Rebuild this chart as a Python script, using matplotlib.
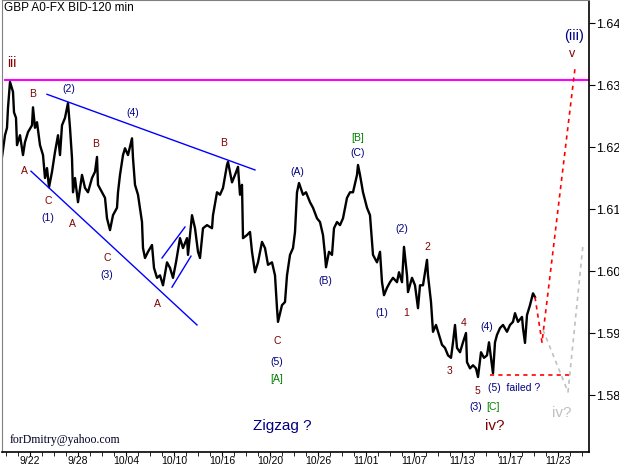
import matplotlib
matplotlib.use("Agg")
import matplotlib.pyplot as plt
import numpy as np

# 120-min bars, 12 bars per day; bar 0 = 9/22
bars = [-28, -25, -23, -22, -20, -17, -16, -14, -13, -10, -7, -5, -2, 2, 3, 5, 7, 10, 13, 15,
        17, 19, 22, 25, 28, 30, 32, 35, 38, 40, 42, 43, 45, 48, 52, 55, 58, 62, 65, 67,
        68, 72, 75, 77, 80, 83, 87, 88, 90, 93, 95, 98, 102, 103, 105, 108, 112, 113, 115, 118,
        122, 124, 127, 130, 133, 137, 140, 143, 146, 150, 153, 157, 158, 162, 165, 168, 170, 173, 177, 182,
        183, 187, 190, 193, 197, 198, 202, 205, 208, 210, 212, 213, 217, 220, 222, 225, 228, 232, 235, 238,
        242, 245, 247, 248, 252, 255, 257, 260, 263, 265, 267, 269, 273, 276, 280, 283, 287, 290, 293, 295,
        296, 299, 302, 304, 307, 310, 313, 317, 320, 323, 327, 328, 330, 333, 337, 340, 342, 343, 347, 350,
        352, 354, 357, 360, 363, 367, 369, 372, 374, 377, 378, 382, 385, 388, 390, 393, 397, 398, 401, 403,
        406, 409, 412, 415, 418, 421, 423, 425, 427, 430, 433, 436, 437, 440, 443, 446, 448, 451, 454, 457,
        459, 462, 463, 465, 467, 470, 473, 477, 480, 483, 485, 488, 492, 493, 495, 497, 500, 503, 505]
close = [1.6184, 1.6219, 1.6231, 1.6263, 1.6305, 1.6289, 1.6256, 1.6247, 1.6203, 1.6219, 1.6187, 1.6208, 1.6224, 1.6235, 1.6264, 1.6231, 1.6240, 1.6203, 1.6187, 1.6150,
         1.6166, 1.6135, 1.6160, 1.6192, 1.6219, 1.6187, 1.6235, 1.6247, 1.6271, 1.6231, 1.6182, 1.6127, 1.6150, 1.6111, 1.6155, 1.6134, 1.6127, 1.6150, 1.6160, 1.6184,
         1.6139, 1.6127, 1.6118, 1.6085, 1.6066, 1.6090, 1.6102, 1.6127, 1.6155, 1.6187, 1.6198, 1.6187, 1.6214, 1.6182, 1.6139, 1.6123, 1.6079, 1.6037, 1.6021, 1.6031,
         1.6042, 1.6005, 1.5989, 1.5993, 1.5977, 1.6014, 1.6005, 1.5989, 1.6014, 1.6053, 1.6037, 1.6053, 1.6026, 1.6090, 1.6069, 1.6031, 1.6021, 1.6069, 1.6074, 1.6069,
         1.6090, 1.6127, 1.6123, 1.6134, 1.6171, 1.6176, 1.6143, 1.6155, 1.6168, 1.6123, 1.6139, 1.6053, 1.6058, 1.6063, 1.6031, 1.5998, 1.6014, 1.6047, 1.6037, 1.6010,
         1.6014, 1.5993, 1.5940, 1.5918, 1.5945, 1.5950, 1.5993, 1.6026, 1.6037, 1.6063, 1.6127, 1.6142, 1.6123, 1.6127, 1.6111, 1.6102, 1.6085, 1.6079, 1.6058, 1.6026,
         1.6006, 1.6031, 1.6026, 1.6069, 1.6079, 1.6074, 1.6085, 1.6118, 1.6127, 1.6127, 1.6155, 1.6171, 1.6155, 1.6127, 1.6102, 1.6090, 1.6047, 1.6026, 1.6014, 1.6031,
         1.5982, 1.5961, 1.5973, 1.5982, 1.5989, 1.5982, 1.5998, 1.5982, 1.6039, 1.5993, 1.5966, 1.5989, 1.5977, 1.5940, 1.5977, 1.5977, 1.6018, 1.5993, 1.5950, 1.5902,
         1.5913, 1.5897, 1.5881, 1.5876, 1.5864, 1.5860, 1.5885, 1.5913, 1.5876, 1.5869, 1.5885, 1.5900, 1.5853, 1.5843, 1.5848, 1.5843, 1.5829, 1.5869, 1.5860, 1.5864,
         1.5885, 1.5848, 1.5835, 1.5885, 1.5897, 1.5908, 1.5913, 1.5902, 1.5913, 1.5918, 1.5932, 1.5918, 1.5926, 1.5908, 1.5884, 1.5929, 1.5945, 1.5964, 1.5958]

# forecast paths
red_bars = [505, 512, 545]
red_price = [1.5958, 1.5885, 1.6327]
gray_bars = [513, 538, 553]
gray_price = [1.5905, 1.5805, 1.6042]
failed_level = 1.5832
iii_level = 1.6308

# wave channel lines (bars, prices)
upper_trend = ([17, 225], [1.6285, 1.6163])
lower_trend = ([1, 167], [1.6161, 1.5913])
small_up = ([132, 155], [1.6021, 1.6071])
small_dn = ([142, 161], [1.5974, 1.6024])

date_labels = ["9/22", "9/28", "10/04", "10/10", "10/16", "10/20", "10/26",
               "11/01", "11/07", "11/13", "11/17", "11/23"]
price_ticks = [1.58, 1.59, 1.60, 1.61, 1.62, 1.63, 1.64]

RED = "#800000"
NAVY = "#000080"
GREEN = "#008000"

fig = plt.figure(figsize=(6.19, 4.67), dpi=100)
ax = fig.add_axes([2/619, 1 - 452/467, 587/619, 452/467])
ax.set_xlim(-28, 559)
ax.set_ylim(1.57081, 1.64371)

ax.axhline(iii_level, color="#FF00FF", lw=1.5, xmin=0.005)
ax.plot(bars, close, color="black", lw=1.7)

for xs, ys in (upper_trend, lower_trend, small_up, small_dn):
    ax.plot(xs, ys, color="#0000FF", lw=1)

ax.plot(red_bars, red_price, color="#FF0000", lw=1.2, ls=(0, (2.5, 2.5)))
ax.plot([460, 542], [failed_level, failed_level], color="#FF0000", lw=1.2, ls=(0, (2.5, 2.5)))
ax.plot(gray_bars, gray_price, color="#C0C0C0", lw=1.2, ls=(0, (2.5, 2.5)))

def lab(x, y, s, c, size=7.5):
    ax.text(x, y, s, color=c, fontsize=size, ha="center", va="center", family="Liberation Sans")

lab(-18, 1.6335, "iii", RED, 10)
lab(3, 1.6285, "B", RED)
lab(-6, 1.6161, "A", RED)
lab(18, 1.6113, "C", RED)
lab(18, 1.6085, "(1)", NAVY)
lab(42, 1.6076, "A", RED)
lab(77, 1.6021, "C", RED)
lab(77, 1.5993, "(3)", NAVY)
lab(127, 1.5947, "A", RED)
lab(66, 1.6205, "B", RED)
lab(39, 1.6293, "(2)", NAVY)
lab(103, 1.6255, "(4)", NAVY)
lab(194, 1.6206, "B", RED)
lab(267, 1.6160, "(A)", NAVY)
lab(328, 1.6214, "[B]", GREEN)
lab(328, 1.6190, "(C)", NAVY)
lab(295, 1.5984, "(B)", NAVY)
lab(247, 1.5887, "C", RED)
lab(247, 1.5853, "(5)", NAVY)
lab(247, 1.5826, "[A]", GREEN)
lab(252, 1.5750, "Zigzag ?", NAVY, 11)
lab(372, 1.6068, "(2)", NAVY)
lab(397, 1.6039, "2", RED)
lab(352, 1.5932, "(1)", NAVY)
lab(376, 1.5932, "1", RED)
lab(434, 1.5916, "4", RED)
lab(457, 1.5910, "(4)", NAVY)
lab(420, 1.5839, "3", RED)
lab(447, 1.5806, "5", RED)
lab(484, 1.5811, "(5)  failed ?", NAVY)
lab(446, 1.5781, "(3)", NAVY)
lab(463, 1.5781, "[C]", GREEN)
lab(465, 1.5750, "iv?", RED, 11)
lab(532, 1.5771, "iv?", "#C0C0C0", 11)
lab(542, 1.6350, "v", RED, 9)
lab(544, 1.6379, "(iii)", NAVY, 10.5)

ax.text(0.004, 0.995, "GBP A0-FX BID-120 min", transform=ax.transAxes, ha="left", va="top",
        fontsize=8.5, family="Liberation Sans")
ax.text(0.013, 0.027, "forDmitry@yahoo.com", transform=ax.transAxes, ha="left", va="center",
        fontsize=8.5, family="Liberation Serif", color="#000022")

# axes styling
for side in ("left", "top"):
    ax.spines[side].set_color("#808080")
ax.spines["right"].set_linewidth(1.2)
ax.spines["bottom"].set_linewidth(1.2)
ax.yaxis.tick_right()
ax.set_yticks(price_ticks)
ax.set_yticklabels(["%.2f" % p for p in price_ticks], fontsize=9, family="Liberation Sans")
ax.tick_params(axis="y", direction="out", length=4, pad=1)
ax.set_xticks(np.arange(len(date_labels)) * 48)
ax.set_xticklabels(date_labels, fontsize=7.5, family="Liberation Sans")
ax.set_xticks(np.arange(-24, 559, 12), minor=True)
ax.tick_params(axis="x", which="major", direction="out", length=3, pad=0)
ax.tick_params(axis="x", which="minor", direction="out", length=3)

fig.savefig("out.png", dpi=100)
